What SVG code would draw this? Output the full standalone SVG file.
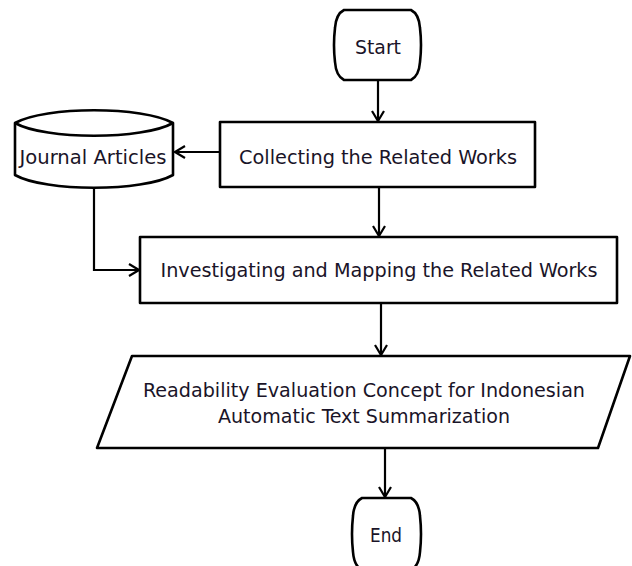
<svg xmlns="http://www.w3.org/2000/svg" width="632" height="566" viewBox="0 0 632 566">
  <defs>
    <marker id="arr" markerWidth="12" markerHeight="14" refX="11" refY="7" orient="auto" markerUnits="userSpaceOnUse">
      <path d="M1,1 L11,7 L1,13" fill="none" stroke="#000" stroke-width="2.2"/>
    </marker>
    <style>
      .shape { fill: #fff; stroke: #000; stroke-width: 2.6; stroke-linejoin: round; }
      .conn { fill: none; stroke: #000; stroke-width: 2.2; marker-end: url(#arr); }
      text { font-family: "DejaVu Sans Condensed", "DejaVu Sans", Tahoma, sans-serif; font-size: 20px; fill: #1a1428; text-anchor: middle; }
    </style>
  </defs>
  <rect width="632" height="566" fill="#fff"/>

  <g id="start">
    <path class="shape" d="M344,10 H411 Q419,14 420,28 Q422,45 420,62 Q419,76 411,80 H344 Q336,76 335,62 Q333,45 335,28 Q336,14 344,10 Z"/>
    <text x="378" y="54" textLength="46" lengthAdjust="spacingAndGlyphs">Start</text>
  </g>

  <g id="collecting">
    <rect class="shape" x="220" y="122" width="315" height="65"/>
    <text x="378" y="164" textLength="278" lengthAdjust="spacingAndGlyphs">Collecting the Related Works</text>
  </g>

  <g id="journal">
    <path class="shape" d="M15,123 C45,106 143,106 173,123 V175 C143,192 45,192 15,175 Z"/>
    <path class="shape" fill="none" d="M15,123 C45,140 143,140 173,123"/>
    <text x="93" y="164" textLength="147" lengthAdjust="spacingAndGlyphs">Journal Articles</text>
  </g>

  <g id="investigating">
    <rect class="shape" x="140" y="237" width="477" height="66"/>
    <text x="379" y="277" textLength="437" lengthAdjust="spacingAndGlyphs">Investigating and Mapping the Related Works</text>
  </g>

  <g id="readability">
    <polygon class="shape" points="132,356 630,356 598,448 97,448"/>
    <text x="364" y="397" textLength="442" lengthAdjust="spacingAndGlyphs">Readability Evaluation Concept for Indonesian</text>
    <text x="364" y="423" textLength="292" lengthAdjust="spacingAndGlyphs">Automatic Text Summarization</text>
  </g>

  <g id="end">
    <path class="shape" d="M362,498 H411 Q419,502 420,516 Q422,534 420,552 Q419,566 411,570 H362 Q354,566 353,552 Q351,534 353,516 Q354,502 362,498 Z"/>
    <text x="386" y="542" textLength="32" lengthAdjust="spacingAndGlyphs">End</text>
  </g>

  <g id="connectors">
    <line class="conn" x1="378" y1="80" x2="378" y2="121"/>
    <line class="conn" x1="220" y1="152" x2="175" y2="152"/>
    <polyline class="conn" points="94,187 94,270 139,270"/>
    <line class="conn" x1="379" y1="187" x2="379" y2="236"/>
    <line class="conn" x1="381" y1="303" x2="381" y2="355"/>
    <line class="conn" x1="385" y1="448" x2="385" y2="497"/>
  </g>
</svg>
